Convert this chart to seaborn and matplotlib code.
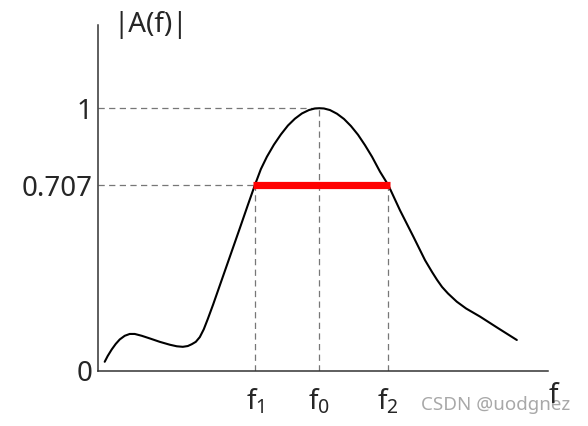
import matplotlib
matplotlib.use("Agg")
import matplotlib.pyplot as plt
import seaborn as sns
import pandas as pd

# curve (arbitrary frequency units)
freq = [0.146, 0.211, 0.299, 0.386, 0.473, 0.582, 0.691, 0.800, 0.953, 1.127,
        1.345, 1.563, 1.716, 1.847, 1.956, 2.043, 2.130, 2.217, 2.304, 2.391,
        2.507, 2.653, 2.871, 3.089, 3.263, 3.416,
        3.547, 3.678, 3.831, 3.983, 4.136, 4.288, 4.441, 4.594, 4.724, 4.818,
        4.920, 5.051, 5.204, 5.357, 5.509, 5.662, 5.815, 5.968, 6.142, 6.322,
        6.577, 6.867, 7.122, 7.275, 7.384, 7.493, 7.623, 7.813, 8.016, 8.321,
        8.713, 9.121]
gain = [0.034, 0.056, 0.081, 0.102, 0.119, 0.133, 0.140, 0.140, 0.133, 0.123,
        0.110, 0.099, 0.093, 0.091, 0.094, 0.101, 0.110, 0.128, 0.158, 0.197,
        0.252, 0.325, 0.434, 0.543, 0.631, 0.707,
        0.768, 0.815, 0.861, 0.900, 0.934, 0.960, 0.980, 0.993, 0.999, 1.000,
        0.999, 0.993, 0.979, 0.959, 0.932, 0.899, 0.859, 0.815, 0.758, 0.707,
        0.611, 0.511, 0.421, 0.376, 0.346, 0.319, 0.294, 0.263, 0.237, 0.206,
        0.162, 0.117]

f1, f0, f2 = 3.416, 4.818, 6.322
cutoff = 0.707
ytick_vals = [0, 0.707, 1]
ytick_labels = ["0", "0.707", "1"]
xtick_labels = [r"$\mathregular{f_1}$", r"$\mathregular{f_0}$", r"$\mathregular{f_2}$"]

sns.set_style("white")
plt.rcParams["font.family"] = ["Noto Sans", "DejaVu Sans"]

fig = plt.figure(figsize=(5.88, 4.26), dpi=100)
ax = fig.add_axes([98 / 588, (426 - 370.7) / 426, (548 - 98) / 588, (370.7 - 25) / 426])

df = pd.DataFrame({"f": freq, "A": gain})
sns.lineplot(data=df, x="f", y="A", ax=ax, color="black", lw=1.5, sort=False, zorder=3)

dash = dict(color="#777777", lw=0.9, ls=(0, (5, 3.5)), zorder=1)
ax.plot([0, f0], [1, 1], **dash)
ax.plot([0, f1], [cutoff, cutoff], **dash)
for xv, top in [(f1, cutoff), (f0, 1), (f2, cutoff)]:
    ax.plot([xv, xv], [0, top], **dash)

# -3dB bandwidth
ax.plot([f1 - 0.04, f2 + 0.04], [cutoff, cutoff], color="#ff0000", lw=5.2,
        solid_capstyle="butt", zorder=4)

ax.set_xlim(0, 9.8)
ax.set_ylim(0, 1.317)
ax.set_yticks(ytick_vals)
ax.set_yticklabels(ytick_labels, fontsize=20)
ax.set_xticks([f1, f0, f2])
ax.set_xticklabels(xtick_labels, fontsize=20)
ax.tick_params(axis="y", length=0, pad=4)
ax.tick_params(axis="x", length=0, pad=12)
ax.set_xlabel("")
ax.set_ylabel("")
sns.despine(ax=ax)
for s in ["left", "bottom"]:
    ax.spines[s].set_color("#333333")
    ax.spines[s].set_linewidth(1.1)

fig.text(151 / 588, 1 - 25 / 426, "|A(f)|", fontsize=20, ha="center", va="center")
fig.text(496 / 588, 1 - 405 / 426, "CSDN @uodgnez", fontsize=13.5, color="#a8a8a8",
         ha="center", va="center")
fig.text(554 / 588, 1 - 396 / 426, r"$\mathregular{f}$", fontsize=20, ha="center", va="center")

fig.savefig("out.png", dpi=100)
